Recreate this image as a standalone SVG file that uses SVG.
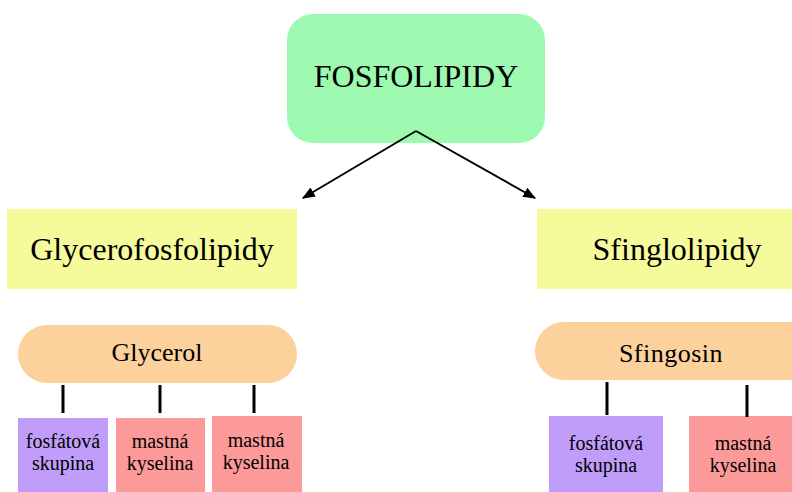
<svg xmlns="http://www.w3.org/2000/svg" width="792" height="492" viewBox="0 0 792 492">
  <defs>
    <marker id="arrow" viewBox="0 0 10 10" refX="9" refY="5" markerWidth="6.5" markerHeight="6.5" orient="auto" markerUnits="strokeWidth">
      <path d="M0,1 L10,5 L0,9 z" fill="#000"/>
    </marker>
    <style>
      text { font-family: "Liberation Serif", "Times New Roman", serif; fill: #000; text-anchor: middle; }
      .root { fill: #9ef9b0; }
      .cls { fill: #f5fa9a; }
      .base { fill: #fdd19b; }
      .phos { fill: #bf9df9; }
      .fat { fill: #fc9a9a; }
      .big { font-size: 32px; }
      .mid { font-size: 26px; }
      .small { font-size: 20px; }
      .link { stroke: #000; stroke-width: 3; fill: none; }
      .arr { stroke: #000; stroke-width: 2; fill: none; marker-end: url(#arrow); }
    </style>
  </defs>
  <rect width="792" height="492" fill="#fff"/>

  <g id="fosfolipidy">
    <rect class="root" x="287" y="14" width="258" height="129" rx="26"/>
    <text class="big" x="416" y="87">FOSFOLIPIDY</text>
  </g>

  <g id="glycerofosfolipidy">
    <rect class="cls" x="7" y="209" width="290" height="80"/>
    <text class="big" x="152" y="260">Glycerofosfolipidy</text>
  </g>

  <g id="sfinglolipidy">
    <rect class="cls" x="537" y="209" width="260" height="80"/>
    <text class="big" x="677" y="260">Sfinglolipidy</text>
  </g>

  <g id="glycerol">
    <rect class="base" x="18" y="325" width="279" height="58" rx="29"/>
    <text class="mid" x="157" y="361">Glycerol</text>
  </g>

  <g id="sfingosin">
    <rect class="base" x="535" y="322" width="290" height="58" rx="29"/>
    <text class="mid" x="671" y="362" letter-spacing="0.5">Sfingosin</text>
  </g>

  <g id="g-fosfat">
    <rect class="phos" x="18" y="418" width="90" height="80"/>
    <text class="small" x="63" y="448">fosfátová</text>
    <text class="small" x="63" y="470">skupina</text>
  </g>

  <g id="g-mastna-1">
    <rect class="fat" x="116" y="418" width="89" height="80"/>
    <text class="small" x="160" y="448">mastná</text>
    <text class="small" x="160" y="470">kyselina</text>
  </g>

  <g id="g-mastna-2">
    <rect class="fat" x="212" y="416" width="90" height="82"/>
    <text class="small" x="256" y="447">mastná</text>
    <text class="small" x="256" y="469">kyselina</text>
  </g>

  <g id="s-fosfat">
    <rect class="phos" x="549" y="416" width="114" height="82"/>
    <text class="small" x="606" y="450">fosfátová</text>
    <text class="small" x="606" y="472">skupina</text>
  </g>

  <g id="s-mastna">
    <rect class="fat" x="689" y="416" width="110" height="82"/>
    <text class="small" x="743" y="450">mastná</text>
    <text class="small" x="743" y="472">kyselina</text>
  </g>

  <!-- connectors drawn last so the arrows start inside the root box -->
  <g id="connectors">
    <path class="arr" d="M416,131 L303,198"/>
    <path class="arr" d="M416,131 L535,198"/>
    <line class="link" x1="63" y1="385" x2="63" y2="413"/>
    <line class="link" x1="160" y1="385" x2="160" y2="413"/>
    <line class="link" x1="254" y1="385" x2="254" y2="413"/>
    <line class="link" x1="607" y1="382" x2="607" y2="415"/>
    <line class="link" x1="747" y1="385" x2="747" y2="417"/>
  </g>
</svg>
